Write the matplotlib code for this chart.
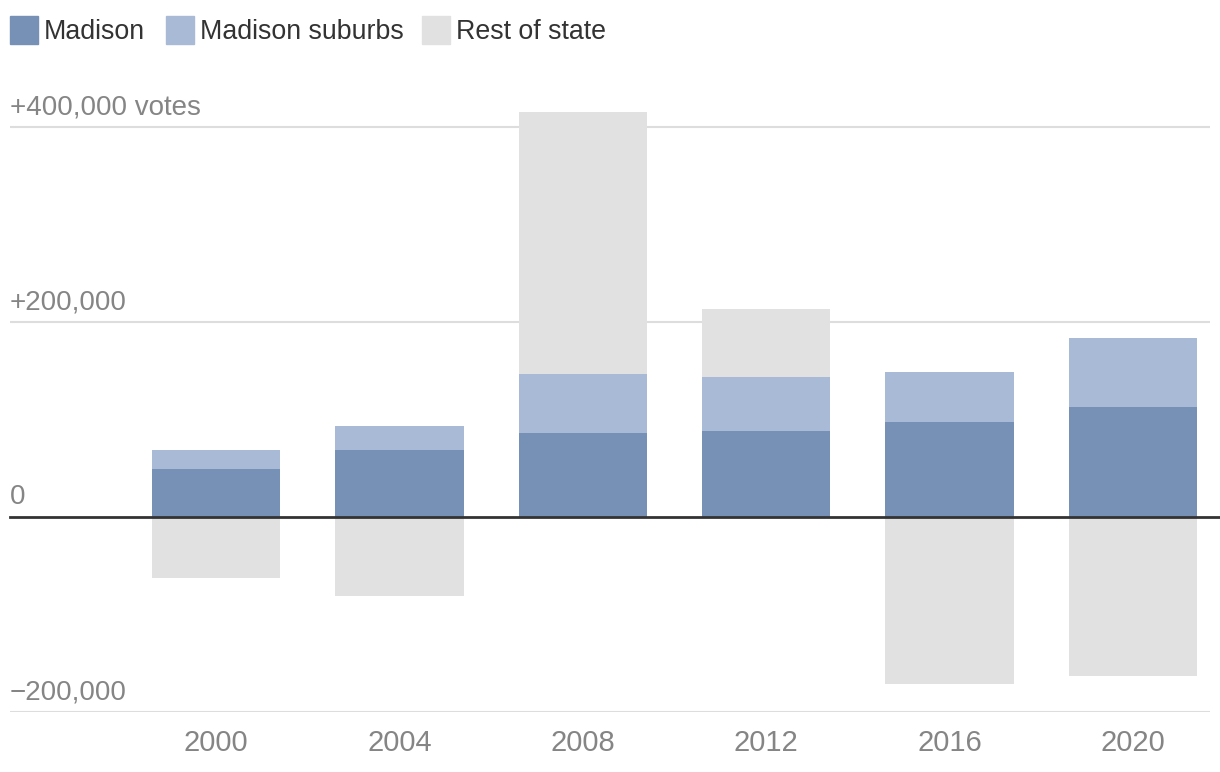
import matplotlib
matplotlib.use("Agg")
import matplotlib.pyplot as plt
from matplotlib.patches import Rectangle

years = ["2000", "2004", "2008", "2012", "2016", "2020"]
madison = [49000, 69000, 86000, 88000, 97000, 113000]
suburbs = [20000, 24000, 61000, 56000, 52000, 71000]
rest_of_state = [-63000, -81000, 268000, 69000, -171000, -163000]

series_names = ["Madison", "Madison suburbs", "Rest of state"]
colors = ["#7790b5", "#a9bad6", "#e0e1e0"]
yticks = [-200000, 0, 200000, 400000]
ytick_labels = ["\u2212200,000", "0", "+200,000", "+400,000 votes"]

W, H = 1220, 772
fig = plt.figure(figsize=(W / 100, H / 100), dpi=100)
ax = fig.add_axes([10 / W, 1 - 712 / H, 1200 / W, (712 - 107.5) / H])

x = list(range(len(years)))
width = 0.70
ax.bar(x, madison, width, color=colors[0], zorder=3)
ax.bar(x, suburbs, width, bottom=madison, color=colors[1], zorder=3)
rest_bottom = []
for m, s, r in zip(madison, suburbs, rest_of_state):
    rest_bottom.append(m + s if r > 0 else 0)
ax.bar(x, rest_of_state, width, bottom=rest_bottom, color=colors[2], zorder=3)

ax.set_xlim(-1.123, 5.42)
ax.set_ylim(-200000, 420000)
for v in yticks:
    if v == 0:
        continue
    ax.axhline(v, color="#dddddd", lw=1.5, zorder=1)
ax.axhline(0, color="#333333", lw=2, zorder=4, xmax=1.01, clip_on=False)

for s in ax.spines.values():
    s.set_visible(False)
ax.set_yticks([])
ax.set_xticks(x)
ax.set_xticklabels(years, fontsize=21, color="#858585", family="Liberation Sans")
ax.tick_params(axis="x", length=0, pad=12)

for v, lab in zip(yticks, ytick_labels):
    ax.annotate(lab, xy=(0, v), xycoords=("axes fraction", "data"),
                xytext=(0, 5), textcoords="offset points",
                ha="left", va="bottom", fontsize=20, color="#858585",
                family="Liberation Sans")

# legend
lx = [10, 166, 422]
for i, (name, c) in enumerate(zip(series_names, colors)):
    x0 = lx[i]
    fig.patches.append(Rectangle((x0 / W, 1 - 44 / H), 28 / W, 28 / H,
                                 transform=fig.transFigure, color=c))
    fig.text((x0 + 34) / W, 1 - 32 / H, name, fontsize=19.3,
             family="Liberation Sans",
             color="#333333", ha="left", va="center")

fig.savefig("out.png", dpi=100)
